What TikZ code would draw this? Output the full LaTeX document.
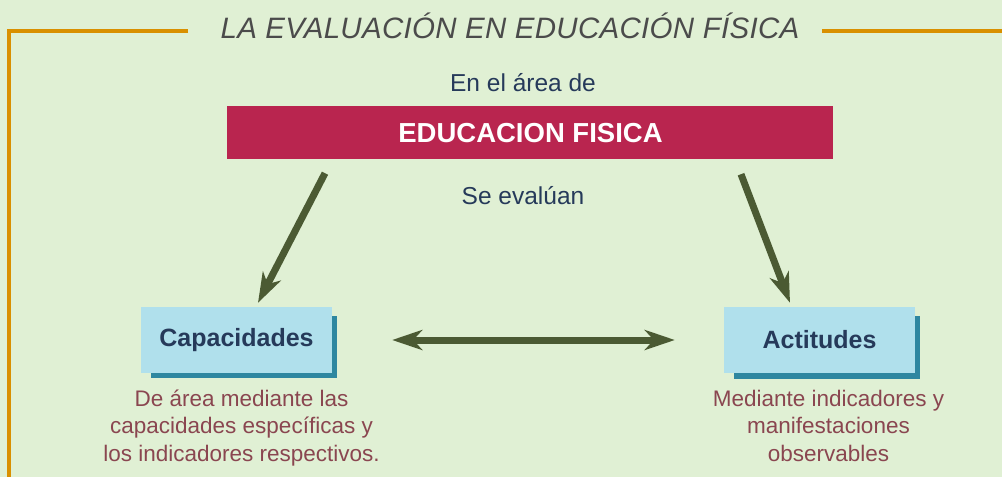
\documentclass[tikz,border=0pt]{standalone}
\usepackage{fontspec}
\setmainfont{Liberation Sans}
\usetikzlibrary{arrows.meta,positioning}

\definecolor{bgGreen}{HTML}{E0F0D4}
\definecolor{frameOrange}{HTML}{D99000}
\definecolor{titleGray}{HTML}{4B4B4B}
\definecolor{navyText}{HTML}{263A5A}
\definecolor{bannerRed}{HTML}{B9254F}
\definecolor{boxBlue}{HTML}{B0E0EC}
\definecolor{shadowBlue}{HTML}{2E87A0}
\definecolor{arrowOlive}{HTML}{4B5A33}
\definecolor{noteRed}{HTML}{8A4650}

\begin{document}
\begin{tikzpicture}[x=1pt, y=-1pt,
  flow/.style={line width=7pt, draw=arrowOlive, -{Stealth[length=30pt, width=20pt, inset=9pt]}},
  capbox/.style={fill=boxBlue, minimum width=191pt, minimum height=66pt, inner sep=0pt,
    text=navyText, font=\fontsize{25}{30}\selectfont\bfseries},
  note/.style={text=noteRed, align=center, inner sep=0pt, font=\fontsize{22.5}{27.5}\selectfont},
  plain/.style={text=navyText, inner sep=0pt, font=\fontsize{24.5}{29}\selectfont}]

  % Background and frame (draw FIRST)
  \fill[bgGreen] (0,0) rectangle (1002,477);
  \useasboundingbox (0,0) rectangle (1002,477);
  \draw[frameOrange, line width=4pt] (188,31) -- (9,31) -- (9,477);
  \draw[frameOrange, line width=4pt] (822,31) -- (1002,31);

  % Title
  \node[anchor=base, inner sep=0pt, text=titleGray,
    font=\fontsize{29.5}{34}\selectfont\itshape\addfontfeature{LetterSpace=1.0}]
    (title) at (510,38) {LA EVALUACIÓN EN EDUCACIÓN FÍSICA};

  % Area banner
  \node[anchor=base, plain] (area) at (523,91) {En el área de};
  \node[fill=bannerRed, minimum width=606pt, minimum height=53pt, inner sep=0pt]
    (banner) at (530,132.5) {};
  \node[anchor=base, inner sep=0pt, text=white, font=\fontsize{27.5}{32}\selectfont\bfseries]
    (bannertext) at (530.5,142) {EDUCACION FISICA};
  \node[anchor=base, plain] (evalua) at (523,204) {Se evalúan};

  % Boxes with shadows
  \fill[shadowBlue] (151,316) rectangle (337,378);
  \fill[shadowBlue] (734,316) rectangle (920,379);
  \node[capbox] (cap) at (236.5,340) {Capacidades};
  \node[capbox] (act) at (819.5,340) {Actitudes};

  % Arrows
  \draw[flow] ([xshift=-205pt, yshift=-14pt]banner.south) -- ([xshift=21.5pt, yshift=4pt]cap.north);
  \draw[flow] ([xshift=211pt, yshift=-15pt]banner.south) -- ([xshift=-29.5pt, yshift=4pt]act.north);
  \draw[flow, {Stealth[length=30pt, width=20pt, inset=9pt]}-{Stealth[length=30pt, width=20pt, inset=9pt]}]
    ([xshift=60pt]cap.east) -- ([xshift=-49pt]act.west);

  % Notes under the boxes (base = last line)
  \node[note, anchor=base] (capnote) at (241.5,461)
    {De área mediante las\\capacidades específicas y\\los indicadores respectivos.};
  \node[note, anchor=base] (actnote) at (828.5,461)
    {Mediante indicadores y\\manifestaciones\\observables};

\end{tikzpicture}
\end{document}
